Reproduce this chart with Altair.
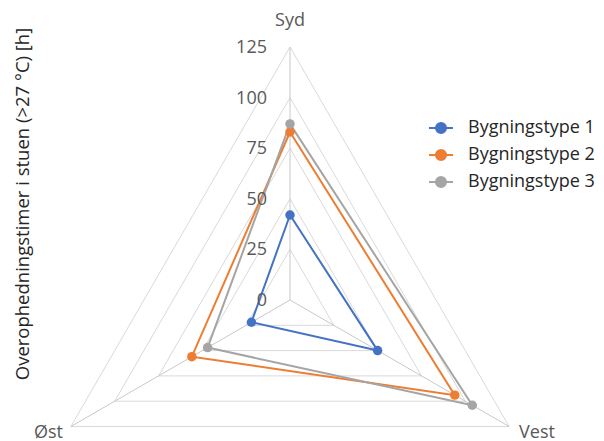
import altair as alt
import pandas as pd

# ---- data ----
directions = ["Syd", "Vest", "Øst"]
direction_angles = [0, 120, 240]          # degrees clockwise from top
series_names = ["Bygningstype 1", "Bygningstype 2", "Bygningstype 3"]
type1_values = [42, 50, 22]
type2_values = [83, 94, 56]
type3_values = [87, 104, 47]
tick_values = [0, 25, 50, 75, 100, 125]
series_colors = ["#4472C4", "#ED7D31", "#A5A5A5"]
y_title = "Overophedningstimer i stuen (>27 °C) [h]"

FONT = "Open Sans"

# ---- tables built from the lists ----
rows = []
for name, vals in zip(series_names, [type1_values, type2_values, type3_values]):
    for i, (d, a, v) in enumerate(zip(directions, direction_angles, vals)):
        rows.append({"serie": name, "retning": d, "angle": a, "value": v, "ord": i})
    rows.append({"serie": name, "retning": directions[0], "angle": direction_angles[0],
                 "value": vals[0], "ord": len(vals)})
df_series = pd.DataFrame(rows)
df_points = df_series[df_series["ord"] < len(directions)]

grid_rows = []
for t in tick_values[1:]:
    for i, a in enumerate(direction_angles + [direction_angles[0]]):
        grid_rows.append({"level": t, "angle": a, "value": t, "ord": i})
df_grid = pd.DataFrame(grid_rows)

spoke_rows = []
for d, a in zip(directions, direction_angles):
    spoke_rows.append({"retning": d, "angle": a, "value": 0, "ord": 0})
    spoke_rows.append({"retning": d, "angle": a, "value": tick_values[-1], "ord": 1})
df_spokes = pd.DataFrame(spoke_rows)

df_ticks = pd.DataFrame({"value": tick_values, "angle": 0, "label": [str(t) for t in tick_values]})
df_dirs = pd.DataFrame({"retning": directions, "angle": direction_angles, "value": tick_values[-1]})

# ---- scales ----
K = 2.024  # px per unit
W, H = 588, 433
cx, cy = 282, 292   # center in chart coordinates
xs = alt.Scale(domain=[-cx / K, (W - cx) / K], nice=False, zero=False)
ys = alt.Scale(domain=[-(H - cy) / K, cy / K], nice=False, zero=False)

def polar(ch):
    return ch.transform_calculate(
        px="datum.value * sin(datum.angle * PI / 180)",
        py="datum.value * cos(datum.angle * PI / 180)",
    )

X = alt.X("px:Q", scale=xs, axis=None)
Y = alt.Y("py:Q", scale=ys, axis=None)

grid = polar(alt.Chart(df_grid).mark_line(stroke="#D9D9D9", strokeWidth=1)).encode(
    x=X, y=Y, detail="level:N", order="ord:Q")
spokes = polar(alt.Chart(df_spokes).mark_line(stroke="#C8C8C8", strokeWidth=1)).encode(
    x=X, y=Y, detail="retning:N", order="ord:Q")

symbol_path = "M-1,0L1,0M-0.42,0A0.42,0.42,0,1,1,0.42,0A0.42,0.42,0,1,1,-0.42,0Z"
color_scale = alt.Scale(domain=series_names, range=series_colors)
legend = alt.Legend(
    title=None, orient="none", legendX=420, legendY=107,
    symbolType=symbol_path, symbolSize=576, symbolStrokeWidth=2,
    labelFont=FONT, labelFontSize=18, labelColor="#262626", labelOffset=14,
    rowPadding=4, labelLimit=300,
)

lines = polar(alt.Chart(df_series).mark_line(strokeWidth=2)).encode(
    x=X, y=Y, order="ord:Q",
    color=alt.Color("serie:N", scale=color_scale, legend=legend))
points = polar(alt.Chart(df_points).mark_point(filled=True, size=90, opacity=1)).encode(
    x=X, y=Y,
    color=alt.Color("serie:N", scale=color_scale, legend=legend))

tick_text = polar(alt.Chart(df_ticks).mark_text(
    align="right", baseline="middle", dx=-23, dy=1, font=FONT, fontSize=18, color="#595959")).encode(
    x=X, y=Y, text="label:N")

syd_text = polar(alt.Chart(df_dirs[df_dirs["retning"] == "Syd"]).mark_text(
    align="center", baseline="middle", dy=-26, font=FONT, fontSize=18, color="#595959")).encode(
    x=X, y=Y, text="retning:N")
vest_text = polar(alt.Chart(df_dirs[df_dirs["retning"] == "Vest"]).mark_text(
    align="left", baseline="middle", dx=10, dy=6, font=FONT, fontSize=18, color="#595959")).encode(
    x=X, y=Y, text="retning:N")
ost_text = polar(alt.Chart(df_dirs[df_dirs["retning"] == "Øst"]).mark_text(
    align="right", baseline="middle", dx=-8, dy=6, font=FONT, fontSize=18, color="#595959")).encode(
    x=X, y=Y, text="retning:N")

title_text = alt.Chart(pd.DataFrame({"t": [y_title]})).mark_text(
    angle=270, align="center", baseline="middle", font=FONT, fontSize=18.5, color="#262626").encode(
    x=alt.value(15), y=alt.value(196), text="t:N")

chart = alt.layer(grid, spokes, lines, points, tick_text, syd_text, vest_text, ost_text, title_text).properties(
    width=W, height=H, autosize=alt.AutoSizeParams(type="none"), padding=0,
    background="white",
).configure_view(stroke=None)

chart.save("out.html", embed_options={"renderer": "svg", "actions": False})
